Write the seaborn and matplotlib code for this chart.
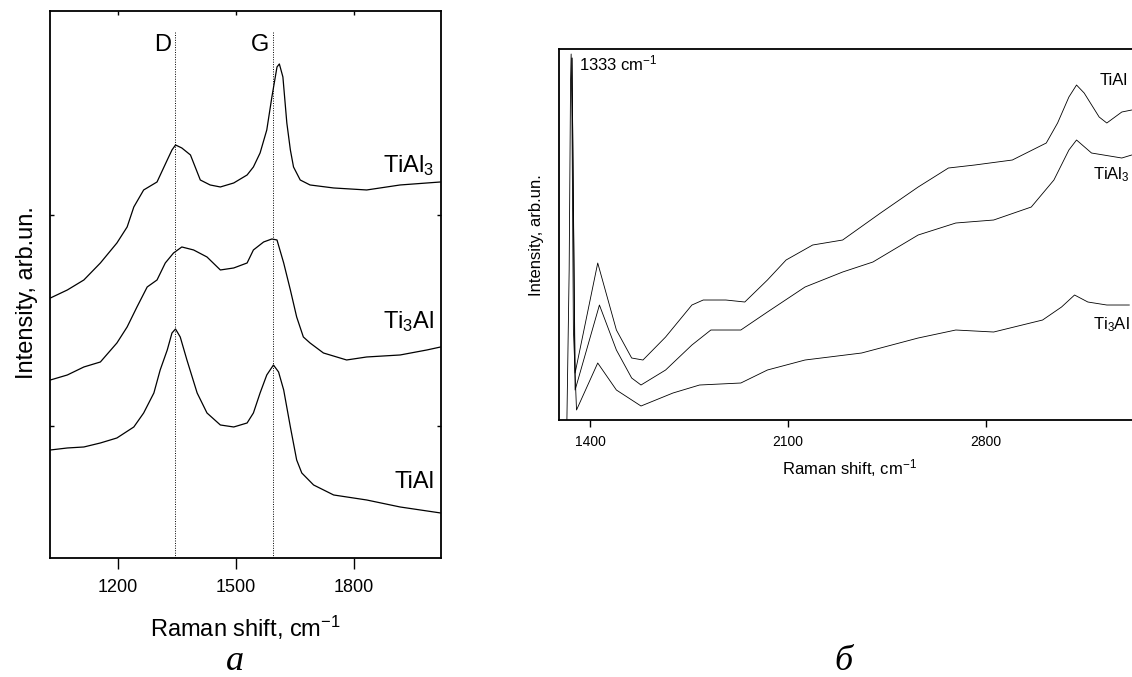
import matplotlib
matplotlib.use('Agg')
import matplotlib.pyplot as plt
from matplotlib.lines import TICKDOWN
import seaborn as sns

# ---------------- data: panel a (1030-2020 cm-1) ----------------
tial3_a_x = [1028, 1071, 1113, 1155, 1197, 1223, 1240, 1265, 1299, 1325, 1337, 1346, 1362, 1384,
             1409, 1434, 1460, 1494, 1528, 1544, 1561, 1578, 1591, 1604, 1610, 1619, 1629, 1638,
             1646, 1663, 1688, 1748, 1832, 1917, 2020]
tial3_a_y = [260, 268, 278, 295, 315, 331, 351, 368, 376, 398, 408, 413, 410, 403,
             378, 373, 371, 375, 383, 391, 405, 428, 461, 491, 494, 481, 435, 408,
             391, 378, 373, 370, 368, 373, 376]

ti3al_a_x = [1028, 1071, 1113, 1155, 1197, 1223, 1248, 1274, 1299, 1320, 1341, 1362, 1392, 1426,
             1460, 1494, 1528, 1544, 1570, 1591, 1604, 1621, 1638, 1654, 1671, 1688, 1722, 1781,
             1832, 1917, 1985, 2020]
ti3al_a_y = [178, 183, 191, 196, 215, 231, 251, 271, 278, 295, 305, 311, 308, 301,
             288, 290, 295, 308, 316, 319, 318, 295, 268, 241, 221, 215, 205, 198,
             201, 203, 208, 211]

tial_a_x = [1028, 1071, 1113, 1155, 1197, 1240, 1265, 1291, 1307, 1325, 1337, 1346, 1358, 1375,
            1401, 1426, 1460, 1494, 1528, 1544, 1561, 1578, 1595, 1608, 1621, 1638, 1654, 1667,
            1697, 1748, 1832, 1917, 2020]
tial_a_y = [108, 110, 111, 115, 120, 131, 145, 165, 188, 208, 225, 229, 221, 198,
            165, 145, 133, 131, 135, 145, 165, 183, 193, 186, 168, 131, 98, 85,
            73, 63, 58, 51, 45]

band_names = ['D', 'G']
band_pos = [1345, 1595]

labels_a = ['TiAl$_3$', 'Ti$_3$Al', 'TiAl']
labels_a_y = [392, 236, 76]

# ---------------- data: panel б (1290-3400 cm-1) ----------------
tial_b_x = [1336, 1347, 1427, 1493, 1547, 1587, 1667, 1760, 1800, 1880, 1947, 2027, 2093, 2187,
            2293, 2427, 2560, 2667, 2760, 2893, 3013, 3053, 3093, 3120, 3147, 3200, 3227, 3280, 3315]
tial_b_y = [362, 47, 157, 90, 62, 60, 83, 115, 120, 120, 118, 140, 160, 175,
            180, 207, 233, 252, 255, 260, 277, 297, 323, 335, 327, 303, 297, 308, 310]

tial3_b_x = [1336, 1347, 1433, 1493, 1547, 1580, 1667, 1760, 1827, 1933, 2027, 2160, 2293, 2400,
             2560, 2693, 2827, 2960, 3040, 3093, 3120, 3173, 3280, 3315]
tial3_b_y = [362, 30, 115, 70, 42, 35, 50, 75, 90, 90, 108, 133, 148, 158,
             185, 197, 200, 213, 240, 270, 280, 267, 262, 265]

ti3al_b_x = [1318, 1326, 1331, 1333, 1336, 1341, 1352, 1427, 1493, 1580, 1693, 1787, 1933, 2027,
             2160, 2360, 2560, 2693, 2827, 3000, 3067, 3113, 3160, 3227, 3307]
ti3al_b_y = [0, 150, 340, 366, 300, 90, 10, 57, 30, 14, 27, 35, 37, 50,
             60, 67, 82, 90, 88, 100, 113, 125, 118, 115, 115]

labels_b = ['TiAl', 'TiAl$_3$', 'Ti$_3$Al']
labels_b_x = [3200, 3178, 3180]
labels_b_y = [340, 245, 95]

# ---------------- style ----------------
sns.set_style('ticks')
plt.rcParams['font.family'] = ['Liberation Sans', 'DejaVu Sans']
plt.rcParams['mathtext.default'] = 'regular'
plt.rcParams['axes.linewidth'] = 1.3
for key in ['text.color', 'axes.labelcolor', 'xtick.color', 'ytick.color', 'axes.edgecolor']:
    plt.rcParams[key] = 'black'

fig = plt.figure(figsize=(11.32, 6.77), dpi=100)
ax1 = fig.add_axes([0.0442, 0.1758, 0.3454, 0.808])
ax2 = fig.add_axes([0.4938, 0.3796, 0.5309, 0.548])

# panel a
for xs, ys in [(tial3_a_x, tial3_a_y), (ti3al_a_x, ti3al_a_y), (tial_a_x, tial_a_y)]:
    sns.lineplot(x=xs, y=ys, ax=ax1, color='black', lw=0.9, estimator=None, sort=False)
for name, pos in zip(band_names, band_pos):
    ax1.axvline(pos, ymax=0.962, color='black', lw=0.7, ls=(0, (1, 1.5)))
    ax1.text(pos - 10, 513, name, ha='right', va='center', fontsize=17)
for lab, yy in zip(labels_a, labels_a_y):
    ax1.text(2005, yy, lab, ha='right', va='center', fontsize=17)

ax1.set_xlim(1027, 2021)
ax1.set_ylim(0, 547)
ax1.set_xticks([1200, 1500, 1800])
ax1.set_yticks([132, 343])
ax1.set_yticklabels([])
ax1.tick_params(axis='x', direction='out', length=8, width=1, labelsize=13, pad=7, top=True)
ax1.tick_params(axis='y', direction='in', length=3, width=1, left=True, right=True)
# short inward ticks on the top spine
for t in ax1.xaxis.get_major_ticks():
    t.tick2line.set_marker(TICKDOWN)
    t.tick2line.set_markersize(3)
ax1.set_xlabel('Raman shift, cm$^{-1}$', fontsize=17, va='center')
ax1.xaxis.set_label_coords(0.501, -0.128)
ax1.set_ylabel('Intensity, arb.un.', fontsize=17, va='center')
ax1.yaxis.set_label_coords(-0.0588, 0.486)

# panel б
for xs, ys in [(tial_b_x, tial_b_y), (tial3_b_x, tial3_b_y), (ti3al_b_x, ti3al_b_y)]:
    sns.lineplot(x=xs, y=ys, ax=ax2, color='black', lw=0.6, estimator=None, sort=False)
ax2.text(1361, 357, '1333 cm$^{-1}$', ha='left', va='center', fontsize=12)
for lab, xx, yy in zip(labels_b, labels_b_x, labels_b_y):
    ax2.text(xx, yy, lab, ha='left', va='center', fontsize=12)

ax2.set_xlim(1290, 3415)
ax2.set_ylim(0, 371)
ax2.set_xticks([1400, 2100, 2800])
ax2.set_yticks([])
ax2.tick_params(axis='x', direction='out', length=5, width=1, labelsize=10, pad=6)
ax2.set_xlabel('Raman shift, cm$^{-1}$', fontsize=12, va='center')
ax2.xaxis.set_label_coords(0.484, -0.129)
ax2.set_ylabel('Intensity, arb.un.', fontsize=12, va='center')
ax2.yaxis.set_label_coords(-0.0366, 0.499)

fig.text(235 / 1132, 1 - 662 / 677, 'a', ha='center', va='center', fontsize=26,
         family=['Liberation Serif', 'DejaVu Serif'], style='italic')
fig.text(843 / 1132, 1 - 662 / 677, 'б', ha='center', va='center', fontsize=26,
         family=['Liberation Serif', 'DejaVu Serif'], style='italic')

fig.savefig('out.png', dpi=100)
